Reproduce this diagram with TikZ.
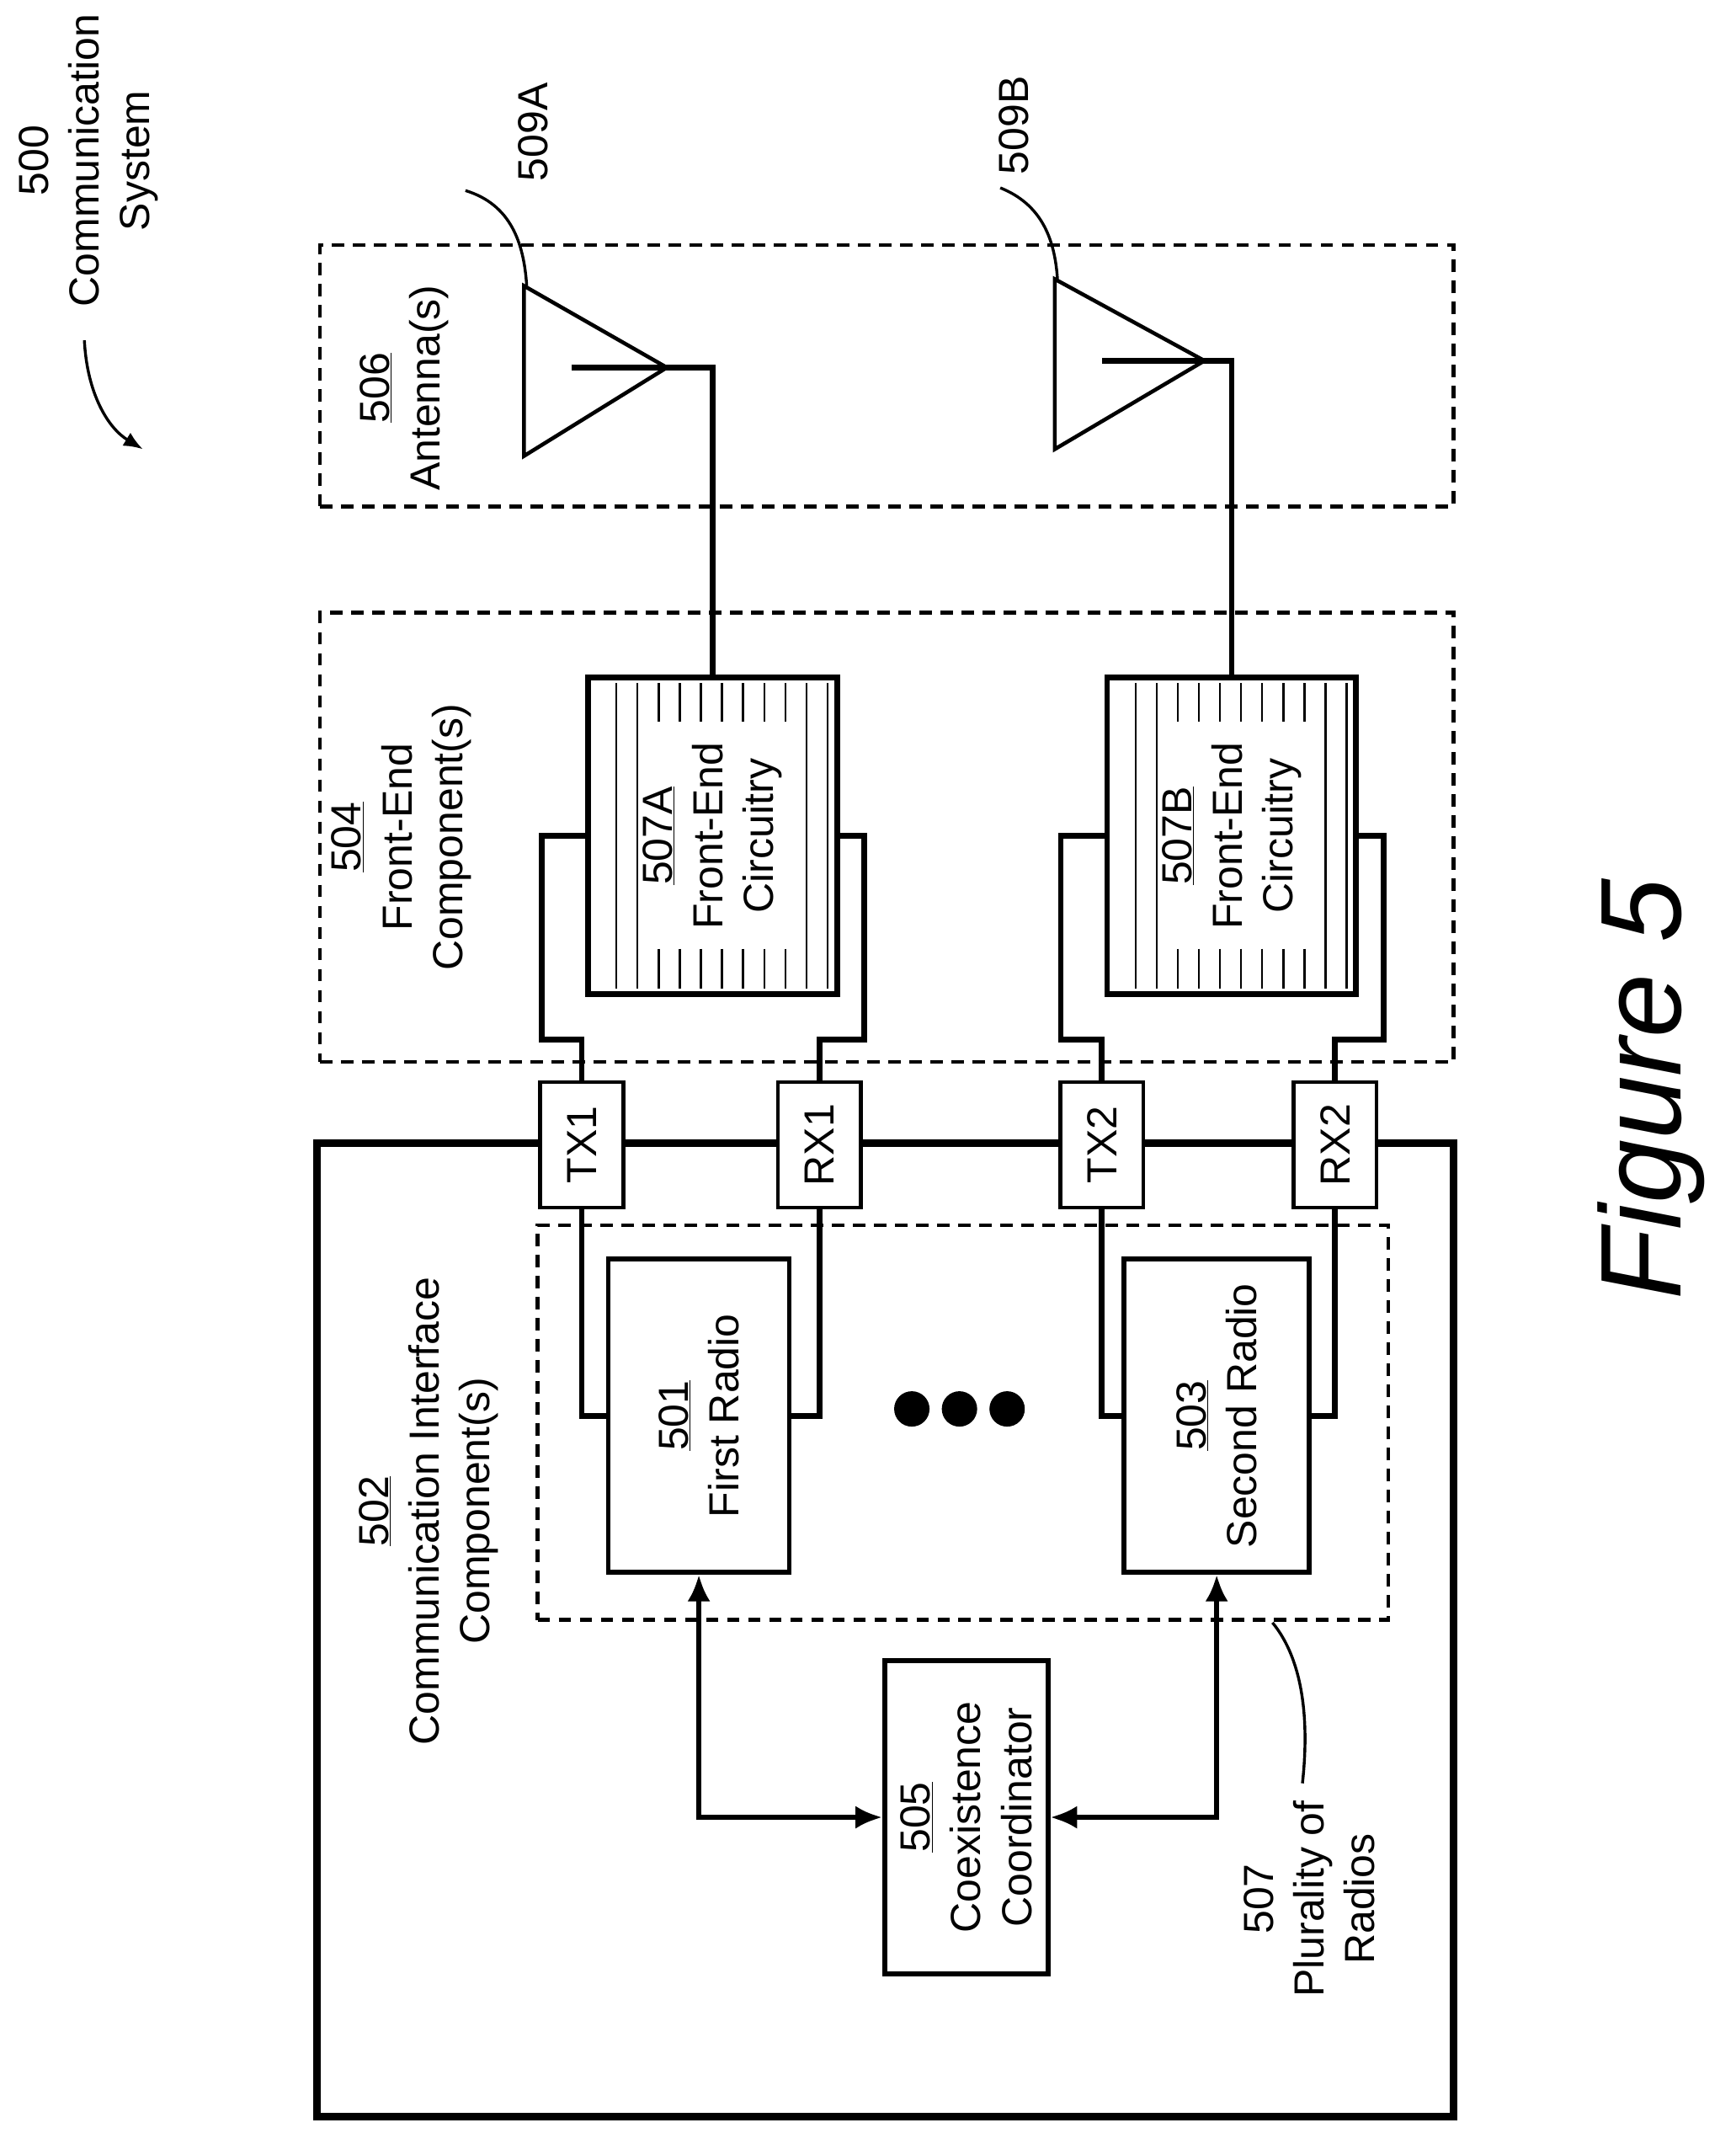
\documentclass[tikz,border=0pt]{standalone}
\usepackage{fontspec}
\setmainfont{Liberation Sans}
\usetikzlibrary{arrows.meta}

\tikzset{
  box/.style={draw, line width=5pt, fill=white, inner sep=0pt},
  port/.style={draw, line width=4pt, fill=white, inner sep=0pt, minimum width=3.05cm, minimum height=4.6cm},
  group/.style={draw, line width=4pt, dash pattern=on 13pt off 9pt, inner sep=0pt},
  txt/.style={rotate=90, align=center, font=\fontsize{44}{53}\selectfont, inner sep=0pt},
  wire/.style={line width=6pt, line join=miter},
  biarrow/.style={line width=5pt, {Latex[length=28pt,width=24pt]}-{Latex[length=28pt,width=24pt]}},
  leader/.style={line width=3pt},
  hatch/.style={line width=2pt}
}

\begin{document}
\begin{tikzpicture}[x=0.05cm, y=-0.05cm]
  \useasboundingbox (0,0) rectangle (1275,1575);

  % dashed groups
  \node[group, minimum width=41.65cm, minimum height=9.6cm] (antgroup) at (651.5,276) {};
  \node[group, minimum width=41.65cm, minimum height=16.5cm] (fegroup) at (651.5,615) {};

  % communication interface
  \node[box, line width=8pt, minimum width=41.75cm, minimum height=35.75cm] (comm) at (650.5,1197.5) {};
  \node[group, minimum width=31.25cm, minimum height=14.5cm] (radios) at (707.5,1045) {};

  % radios and coordinator
  \node[box, minimum width=6.65cm, minimum height=11.5cm] (first) at (513.5,1040) {};
  \node[box, minimum width=6.8cm, minimum height=11.5cm] (second) at (894,1040) {};
  \node[box, minimum width=6cm, minimum height=11.5cm] (coex) at (710,1335) {};
  \node[txt] at (first) {\underline{501}\\First Radio};
  \node[txt] at (second) {\underline{503}\\Second Radio};
  \node[txt] at (coex) {\underline{505}\\Coexistence\\Coordinator};
  \foreach \dx in {670,705,740}
    \fill (\dx,1035) circle (0.65cm);

  % ports
  \node[port] (tx1) at (427.5,841) {};
  \node[port] (rx1) at (602,841) {};
  \node[port] (tx2) at (809.5,841) {};
  \node[port] (rx2) at (981,841) {};
  \foreach \p/\t in {tx1/TX1, rx1/RX1, tx2/TX2, rx2/RX2}
    \node[txt] at (\p) {\t};

  % front-end circuitry
  \foreach \f/\cx/\l in {feA/523.5/507A, feB/905/507B} {
    \node[box, line width=6pt, minimum width=9.15cm, minimum height=11.65cm] (\f) at (\cx,614) {};
    \foreach \i in {0,1,9,10}
      \draw[hatch] (\cx-70.5+\i*15.5,502) -- (\cx-70.5+\i*15.5,726);
    \foreach \i in {2,...,8} {
      \draw[hatch] (\cx-70.5+\i*15.5,502) -- (\cx-70.5+\i*15.5,530);
      \draw[hatch] (\cx-70.5+\i*15.5,697) -- (\cx-70.5+\i*15.5,726);
    }
    \node[txt] at (\f) {\underline{\l}\\Front-End\\Circuitry};
  }

  % wires
  \draw[wire] (tx1.north) -- ++(0,-30) -| ([xshift=-1.6cm]feA.west) -- (feA.west);
  \draw[wire] (rx1.north) -- ++(0,-30) -| ([xshift=0.9cm]feA.east) -- (feA.east);
  \draw[wire] (tx2.north) -- ++(0,-30) -| ([xshift=-1.6cm]feB.west) -- (feB.west);
  \draw[wire] (rx2.north) -- ++(0,-30) -| ([xshift=0.9cm]feB.east) -- (feB.east);
  \draw[wire] (tx1.south) |- (first.west);
  \draw[wire] (rx1.south) |- (first.east);
  \draw[wire] (tx2.south) |- (second.west);
  \draw[wire] (rx2.south) |- (second.east);
  \draw[biarrow] (first.south) |- (coex.west);
  \draw[biarrow] (second.south) |- (coex.east);

  % antennas
  \coordinate (antA) at (490,270);
  \coordinate (antB) at (885,265);
  \draw[wire] (feA.north) |- (antA);
  \draw[wire] (feB.north) |- (antB);
  \draw[line width=4pt] (antA) -- (385,210) -- (385,335) -- cycle;
  \draw[line width=4pt] (antB) -- (775,205) -- (775,330) -- cycle;
  \draw[wire] (420,270) -- (antA);
  \draw[wire] (810,265) -- (antB);

  % labels
  \node[txt] (syslabel) at (65,118) {500\\Communication\\System};
  \draw[leader, -{Latex[length=20pt,width=16pt]}] (62,250) .. controls (64,290) and (80,315) .. (105,330);
  \node[txt] (antlabel) at (297,285) {\underline{506}\\Antenna(s)};
  \node[txt] (felabel) at (295,615) {\underline{504}\\Front-End\\Component(s)};
  \node[txt] (commlabel) at (315,1110) {\underline{502}\\Communication Interface\\Component(s)};
  \node[txt] (labA) at (392,97) {509A};
  \draw[leader] (342,140) .. controls (375,150) and (385,178) .. (387,210);
  \node[txt] (labB) at (745,92) {509B};
  \draw[leader] (735,138) .. controls (765,150) and (775,175) .. (777,205);
  \node[txt] (radlabel) at (962,1395) {507\\Plurality of\\Radios};
  \draw[leader] (935,1192) .. controls (958,1220) and (962,1265) .. (957,1310);
  \node[rotate=90, font=\fontsize{120}{140}\selectfont\itshape, inner sep=0pt] (fig) at (1213,800) {Figure 5};
\end{tikzpicture}
\end{document}
